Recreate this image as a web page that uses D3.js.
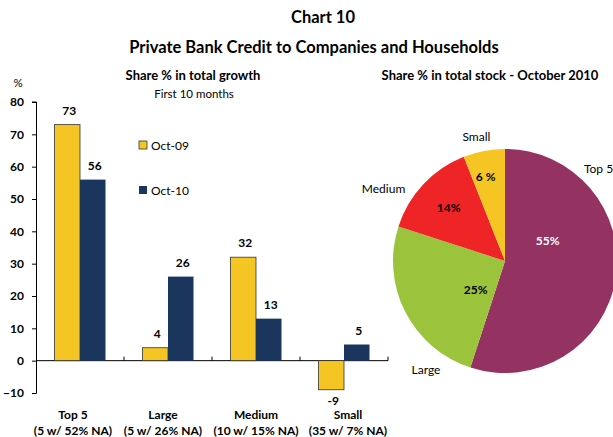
<!DOCTYPE html>
<html>
<head>
<meta charset="utf-8">
<script src="https://cdn.jsdelivr.net/npm/d3@7"></script>
<style>
  body { margin: 0; background: #fff; }
  svg { font-family: Lato, "Open Sans", sans-serif; }
</style>
</head>
<body>
<svg width="613" height="437"></svg>
<script>
const categories = ["Top 5", "Large", "Medium", "Small"];
const subLabels = ["(5 w/ 52% NA)", "(5 w/ 26% NA)", "(10 w/ 15% NA)", "(35 w/ 7% NA)"];
const series = ["Oct-09", "Oct-10"];
const oct09 = [73, 4, 32, -9];
const oct10 = [56, 26, 13, 5];
const yTicks = [-10, 0, 10, 20, 30, 40, 50, 60, 70, 80];

const pieLabels = ["Top 5", "Large", "Medium", "Small"];
const pieValues = [55, 25, 14, 6];
const pieText = ["55%", "25%", "14%", "6 %"];

const svg = d3.select("svg");
const barColors = ["#f5c623", "#1b365d"];
const pieColors = ["#943262", "#9bc43c", "#ee2427", "#f5c623"];

// titles
svg.append("text").attr("x", 323).attr("y", 23).attr("text-anchor", "middle")
  .attr("font-weight", "bold").attr("font-size", 16.5).text("Chart 10");
svg.append("text").attr("x", 314).attr("y", 53).attr("text-anchor", "middle")
  .attr("font-weight", "bold").attr("font-size", 16.5)
  .text("Private Bank Credit to Companies and Households");

// ---- bar chart ----
const x0 = d3.scaleBand().domain(categories).range([36, 388]);
const x1 = d3.scaleBand().domain(series).range([0, 51]);
const y = d3.scaleLinear().domain([-10, 80]).range([393, 102]);

svg.append("text").attr("x", 193).attr("y", 80).attr("text-anchor", "middle")
  .attr("font-weight", "bold").attr("font-size", 13).text("Share % in total growth");
svg.append("text").attr("x", 194).attr("y", 98).attr("text-anchor", "middle")
  .attr("font-size", 11.5).text("First 10 months");
svg.append("text").attr("x", 18).attr("y", 87).attr("text-anchor", "middle")
  .attr("font-size", 11.5).text("%");

const yAxis = svg.append("g").attr("transform", "translate(36,0)")
  .call(d3.axisLeft(y).tickValues(yTicks).tickSize(4).tickPadding(8));
yAxis.selectAll("text").attr("font-weight", "bold").attr("font-size", 12)
  .attr("font-family", "Lato, sans-serif").attr("fill", "#000");
yAxis.selectAll("line, path").attr("stroke", "#000");
yAxis.select(".domain").attr("d", "M-4,393.5H0.5V102H-4");

svg.append("line").attr("x1", 36).attr("x2", 388).attr("y1", y(0)).attr("y2", y(0))
  .attr("stroke", "#000");
svg.selectAll(".xtick").data(categories).enter().append("line")
  .attr("x1", d => x0(d) + x0.bandwidth()).attr("x2", d => x0(d) + x0.bandwidth())
  .attr("y1", y(0)).attr("y2", y(0) - 4).attr("stroke", "#000");

const data = categories.map((c, i) => ({ cat: c, vals: [oct09[i], oct10[i]] }));
const groups = svg.selectAll(".grp").data(data).enter().append("g")
  .attr("transform", d => `translate(${x0(d.cat) + (x0.bandwidth() - 51) / 2},0)`);

groups.selectAll("rect").data(d => d.vals.map((v, j) => ({ v, s: series[j], j })))
  .enter().append("rect")
  .attr("x", d => x1(d.s))
  .attr("y", d => y(Math.max(0, d.v)))
  .attr("width", x1.bandwidth())
  .attr("height", d => Math.abs(y(d.v) - y(0)))
  .attr("fill", d => barColors[d.j])
  .attr("stroke", d => d.j === 0 ? "#333" : "none")
  .attr("stroke-width", 0.8);

groups.selectAll(".val").data(d => d.vals.map((v, j) => ({ v, s: series[j] })))
  .enter().append("text")
  .attr("x", d => x1(d.s) + x1.bandwidth() / 2 + 2)
  .attr("y", d => d.v >= 0 ? y(d.v) - 10 : y(d.v) + 15)
  .attr("text-anchor", "middle").attr("font-weight", "bold").attr("font-size", 12)
  .text(d => d.v);

const labelShift = [-7, -5, 0, 4];
svg.selectAll(".cat").data(categories).enter().append("text")
  .attr("x", (d, i) => x0(d) + x0.bandwidth() / 2 + labelShift[i]).attr("y", 419)
  .attr("text-anchor", "middle").attr("font-weight", "bold").attr("font-size", 12)
  .text(d => d);
svg.selectAll(".sub").data(subLabels).enter().append("text")
  .attr("x", (d, i) => x0(categories[i]) + x0.bandwidth() / 2 + labelShift[i]).attr("y", 435)
  .attr("text-anchor", "middle").attr("font-weight", "bold").attr("font-size", 12)
  .text(d => d);

// legend
const legend = svg.selectAll(".leg").data(series).enter().append("g")
  .attr("transform", (d, i) => `translate(139,${141 + i * 45})`);
legend.append("rect").attr("width", 8).attr("height", 8)
  .attr("fill", (d, i) => barColors[i])
  .attr("stroke", (d, i) => i === 0 ? "#333" : "none").attr("stroke-width", 0.8);
legend.append("text").attr("x", 12).attr("y", 8.5).attr("font-size", 12).text(d => d);

// ---- pie ----
svg.append("text").attr("x", 490).attr("y", 80).attr("text-anchor", "middle")
  .attr("font-weight", "bold").attr("font-size", 13)
  .text("Share % in total stock - October 2010");

const cx = 505, cy = 261, r = 112;
const pie = d3.pie().sort(null)(pieValues);
const arc = d3.arc().innerRadius(0).outerRadius(r);
const pg = svg.append("g").attr("transform", `translate(${cx},${cy})`);
pg.selectAll("path").data(pie).enter().append("path")
  .attr("d", arc).attr("fill", (d, i) => pieColors[i]);

// value labels: big slices nearer the centre, small ones further out
const polar = (ang, rad) => [Math.sin(ang) * rad, -Math.cos(ang) * rad];
const innerFrac = [0.42, 0.37, 0.69, 0.77];
const innerPos = [0.33, 0.3, 0.5, 0.4];
pg.selectAll(".pv").data(pie).enter().append("text")
  .attr("transform", (d, i) => {
    const a = d.startAngle + innerPos[i] * (d.endAngle - d.startAngle);
    const c = polar(a, r * innerFrac[i]);
    return `translate(${c[0]},${c[1] + 4})`;
  })
  .attr("text-anchor", "middle").attr("font-weight", "bold").attr("font-size", 12)
  .attr("fill", (d, i) => i === 0 ? "#fff" : "#000")
  .text((d, i) => pieText[i]);

const outerFrac = [1.17, 1.2, 1.26, 1.14];
const outerPos = [0.23, 0.2, 0.25, 0.4];
pg.selectAll(".pl").data(pie).enter().append("text")
  .attr("transform", (d, i) => {
    const a = d.startAngle + outerPos[i] * (d.endAngle - d.startAngle);
    const c = polar(a, r * outerFrac[i]);
    return `translate(${c[0]},${c[1] + 4})`;
  })
  .attr("text-anchor", "middle").attr("font-size", 12)
  .text((d, i) => pieLabels[i]);
</script>
</body>
</html>
